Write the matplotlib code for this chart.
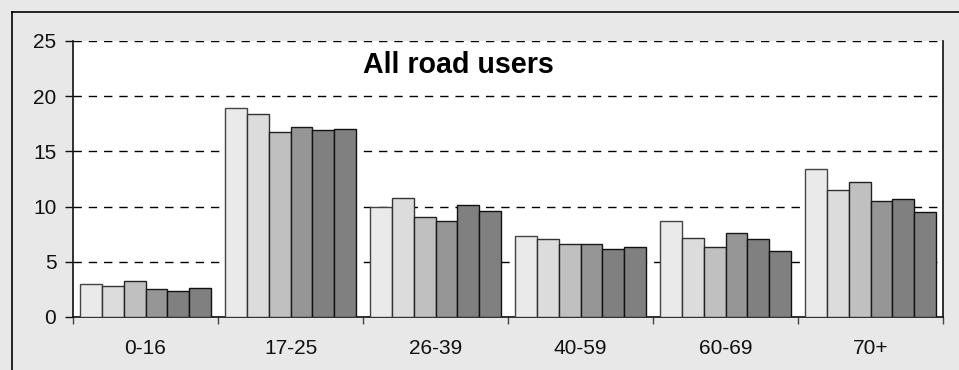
import numpy as np
import matplotlib.pyplot as plt
from matplotlib.lines import Line2D

plt.rcParams['font.family'] = ['Liberation Sans', 'DejaVu Sans']

# age groups on the x axis
age_groups = ['0-16', '17-25', '26-39', '40-59', '60-69', '70+']

# six series (years)
s1 = [3.0, 18.9, 10.0, 7.3, 8.7, 13.4]
s2 = [2.8, 18.4, 10.8, 7.1, 7.2, 11.5]
s3 = [3.3, 16.8, 9.1, 6.6, 6.3, 12.2]
s4 = [2.5, 17.2, 8.7, 6.6, 7.6, 10.5]
s5 = [2.4, 16.9, 10.1, 6.2, 7.1, 10.7]
s6 = [2.6, 17.0, 9.6, 6.3, 6.0, 9.5]
series = [s1, s2, s3, s4, s5, s6]
colours = ['#eaeaea', '#dcdcdc', '#c0c0c0', '#969696', '#808080', '#808080']
edges = ['#444444', '#333333', '#222222', '#1a1a1a', '#111111', '#111111']

yticks = [0, 5, 10, 15, 20, 25]

fig = plt.figure(figsize=(9.59, 3.70), dpi=100, facecolor='#e8e8e8')
ax = fig.add_axes([73/959, 53/370, 870/959, 276/370])
ax.set_facecolor('white')

# outer frame (only top and left visible in the crop)
fig.add_artist(Line2D([12/959, 1.0], [1 - 12/370, 1 - 12/370], color='black', lw=1.2))
fig.add_artist(Line2D([12/959, 12/959], [0.0, 1 - 12/370], color='black', lw=1.2))

x = np.arange(len(age_groups))
w = 0.151
for i, vals in enumerate(series):
    ax.bar(x + (i - 2.5) * w, vals, width=w, color=colours[i],
           edgecolor=edges[i], linewidth=1.0, zorder=3)

ax.set_xlim(-0.5, len(age_groups) - 0.5)
ax.set_ylim(0, 25)
ax.set_yticks(yticks)
ax.set_yticklabels([str(v) for v in yticks])
ax.set_xticks(x)
ax.set_xticklabels(age_groups)
ax.set_xticks(np.arange(len(age_groups) + 1) - 0.5, minor=True)

ax.yaxis.grid(True, linestyle=(0, (6, 5)), color='black', lw=1.0, zorder=0)
ax.tick_params(axis='y', length=6, width=1, pad=6, labelsize=15, colors='#111111')
ax.tick_params(axis='x', which='major', length=0, pad=16, labelsize=15, colors='#111111')
ax.tick_params(axis='x', which='minor', length=5, width=1, color='#444444')

ax.spines['top'].set_visible(False)
ax.spines['right'].set_color('#111111')
ax.spines['left'].set_color('#111111')
ax.spines['bottom'].set_color('#111111')
for sp in ax.spines.values():
    sp.set_linewidth(1.2)

ax.text(0.333, 0.883, 'All road users', transform=ax.transAxes,
        fontsize=20.6, fontweight='bold', ha='left', va='baseline', color='black')

fig.savefig('out.png', dpi=100, facecolor=fig.get_facecolor())
